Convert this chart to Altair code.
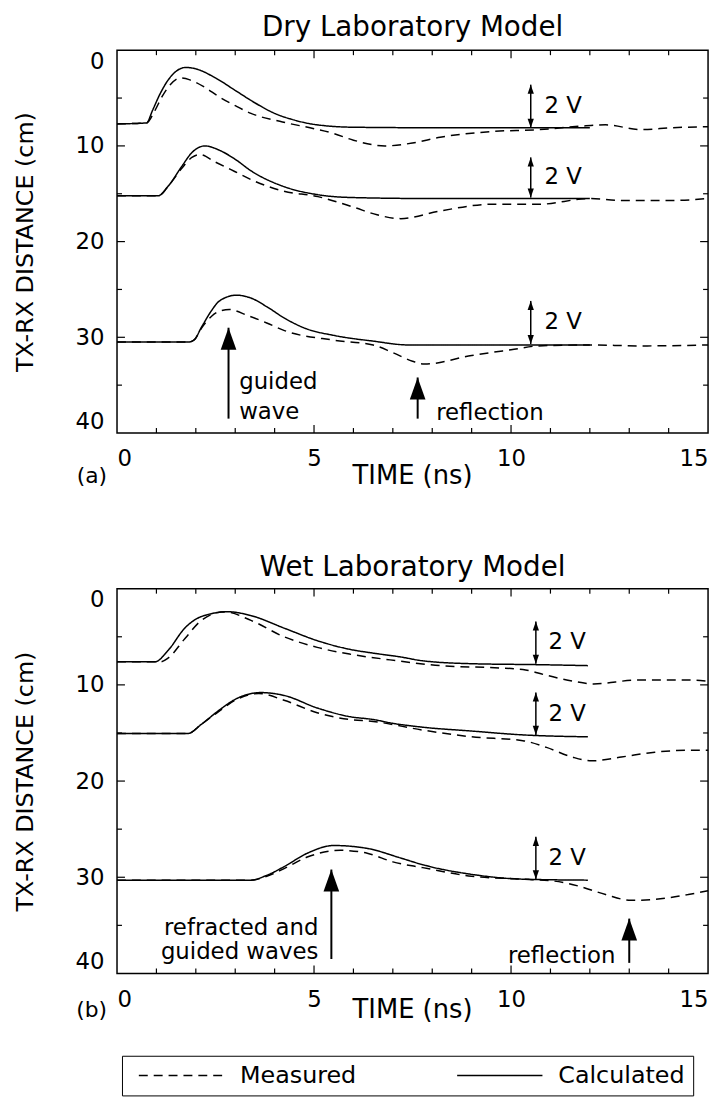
import altair as alt
import pandas as pd

FONT = "DejaVu Sans"
W = 596
H1 = 386
H2 = 388

# ---------------- Dry laboratory model (time ns, distance cm) ----------------
dry1_calc_t = [0, 0.75, 0.9, 1.1, 1.3, 1.5, 1.75, 2.0, 2.5, 3.0, 3.5, 4.0, 4.5, 5.0, 6.0, 8.0, 10.0, 12.0]
dry1_calc_d = [7.7, 7.6, 6.3, 4.5, 3.1, 2.2, 1.8, 1.95, 2.9, 4.2, 5.5, 6.6, 7.3, 7.75, 8.05, 8.1, 8.1, 8.1]
dry1_meas_t = [0, 0.75, 0.95, 1.15, 1.35, 1.6, 1.85, 2.2, 2.6, 3.0, 3.4, 4.2, 5.0, 5.5, 6.0, 6.8, 7.5, 8.2, 9.5, 10.7, 11.9, 12.4, 13.3, 14.1, 15.0]
dry1_meas_d = [7.7, 7.6, 6.4, 4.8, 3.6, 2.9, 3.1, 3.8, 4.9, 5.8, 6.6, 7.5, 8.2, 8.7, 9.4, 10.0, 9.7, 9.1, 8.5, 8.3, 7.9, 7.8, 8.3, 8.1, 8.0]

dry2_calc_t = [0, 1.05, 1.3, 1.65, 1.9, 2.23, 2.57, 3.0, 3.4, 4.2, 5.1, 6.0, 8.0, 10.0, 12.0]
dry2_calc_d = [15.2, 15.2, 14.2, 12.1, 10.7, 10.0, 10.4, 11.4, 12.6, 14.2, 15.1, 15.4, 15.5, 15.5, 15.5]
dry2_meas_t = [0, 1.05, 1.3, 1.65, 1.9, 2.1, 2.5, 3.0, 3.5, 4.2, 5.1, 6.0, 6.6, 7.2, 8.2, 9.5, 10.7, 12.0, 12.8, 14.1, 15.0]
dry2_meas_d = [15.2, 15.2, 14.2, 12.3, 11.2, 10.9, 11.7, 12.7, 13.7, 14.7, 15.3, 16.4, 17.2, 17.6, 16.8, 16.1, 16.1, 15.5, 15.7, 15.7, 15.5]

dry3_calc_t = [0, 1.8, 1.95, 2.15, 2.4, 2.6, 3.03, 3.4, 3.8, 4.25, 4.8, 5.5, 6.5, 7.4, 9.0, 12.0]
dry3_calc_d = [30.5, 30.5, 30.3, 28.9, 27.2, 26.2, 25.6, 25.9, 26.8, 28.0, 29.1, 29.8, 30.4, 30.8, 30.8, 30.8]
dry3_meas_t = [0, 1.8, 1.95, 2.15, 2.4, 2.65, 2.85, 3.3, 3.8, 4.25, 5.5, 6.5, 7.0, 7.5, 7.8, 9.0, 10.0, 10.7, 12.0, 13.3, 15.0]
dry3_meas_d = [30.5, 30.5, 30.3, 29.0, 27.8, 27.2, 27.1, 27.7, 28.5, 29.3, 30.3, 30.8, 31.6, 32.5, 32.8, 31.9, 31.3, 30.9, 30.8, 30.9, 30.8]

# ---------------- Wet laboratory model ----------------
wet1_calc_t = [0, 0.96, 1.3, 1.72, 2.14, 2.82, 3.4, 4.24, 5.08, 5.9, 6.5, 7.2, 7.76, 9.0, 10.7, 11.95]
wet1_calc_d = [7.6, 7.6, 6.4, 4.1, 2.9, 2.4, 2.8, 4.1, 5.4, 6.3, 6.7, 7.1, 7.5, 7.8, 7.9, 8.0]
wet1_meas_t = [0, 1.1, 1.3, 1.72, 2.14, 2.73, 3.4, 4.24, 5.08, 5.9, 6.93, 8.2, 9.45, 10.3, 10.9, 11.55, 12.1, 13.2, 14.5, 14.95]
wet1_meas_d = [7.6, 7.6, 7.2, 5.2, 3.3, 2.4, 3.3, 5.0, 6.1, 6.8, 7.4, 8.0, 8.2, 8.4, 9.0, 9.6, 9.9, 9.5, 9.5, 9.6]

wet2_calc_t = [0, 1.8, 2.14, 2.57, 3.0, 3.65, 4.24, 5.08, 5.9, 6.5, 7.0, 7.76, 9.0, 10.3, 11.95]
wet2_calc_d = [15.05, 15.05, 14.1, 12.7, 11.5, 10.8, 11.1, 12.4, 13.3, 13.6, 14.0, 14.4, 14.8, 15.2, 15.4]
wet2_meas_t = [0, 1.8, 2.14, 2.57, 3.0, 3.6, 4.24, 5.08, 5.9, 6.5, 7.76, 9.0, 10.3, 10.9, 11.55, 12.05, 12.8, 13.65, 14.5, 15.0]
wet2_meas_d = [15.05, 15.05, 14.1, 12.8, 11.6, 10.9, 11.6, 12.9, 13.6, 13.8, 14.7, 15.4, 15.8, 16.5, 17.5, 17.9, 17.5, 17.0, 16.8, 16.8]

wet3_calc_t = [0, 3.4, 3.8, 4.24, 4.83, 5.5, 6.35, 7.2, 7.76, 9.0, 10.3, 11.95]
wet3_calc_d = [30.3, 30.3, 29.8, 28.9, 27.5, 26.7, 27.0, 28.0, 28.7, 29.7, 30.2, 30.3]
wet3_meas_t = [0, 3.4, 3.8, 4.24, 4.83, 5.67, 6.35, 7.0, 7.76, 9.0, 10.3, 11.1, 11.7, 12.4, 13.05, 13.65, 14.5, 15.0]
wet3_meas_d = [30.3, 30.3, 29.9, 29.1, 27.9, 27.2, 27.5, 28.4, 29.0, 29.9, 30.2, 30.4, 30.9, 31.8, 32.4, 32.3, 31.8, 31.4]

# ---------------- "2 V" scale bars ----------------
dry_bar_t = [10.5, 10.5, 10.5]
dry_bar_top = [3.6, 11.2, 26.2]
dry_bar_bot = [8.1, 15.4, 30.7]
dry_bar_text_t = [10.85, 10.85, 10.85]
wet_bar_t = [10.63, 10.63, 10.63]
wet_bar_top = [3.4, 10.8, 25.8]
wet_bar_bot = [7.8, 15.2, 30.2]
wet_bar_text_t = [10.95, 10.95, 10.95]
bar_label = "2 V"

# ---------------- annotation arrows ----------------
dry_arrow_t = [2.83, 7.63]
dry_arrow_base = [38.5, 38.5]
dry_arrow_tip = [29.0, 34.2]
wet_arrow_t = [5.44, 13.0]
wet_arrow_base = [38.5, 38.9]
wet_arrow_tip = [29.2, 34.3]

dry_note_left_text = ["guided", "wave", "reflection"]
dry_note_left_t = [3.1, 3.1, 8.1]
dry_note_left_d = [35.4, 38.5, 38.6]
wet_note_right_text = ["refracted and", "guided waves", "reflection"]
wet_note_right_t = [5.11, 5.11, 12.65]
wet_note_right_d = [36.0, 38.5, 38.9]

# ---------------- frame ticks / axes ----------------
x_label_values = [0, 5, 10, 15]
y_label_values = [0, 10, 20, 30, 40]
x_major_ticks = [5, 10]
x_minor_ticks = [1, 2, 3, 4, 6, 7, 8, 9, 11, 12, 13, 14]
y_major_ticks = [10, 20, 30]
y_minor_ticks = [5, 15, 25, 35]

kinds = ["Measured", "Calculated"]
panel_titles = ["Dry Laboratory Model", "Wet Laboratory Model"]
panel_letters = ["(a)", "(b)"]
x_title = "TIME (ns)"
y_title = "TX-RX DISTANCE (cm)"

XS = alt.Scale(domain=[0, 15], nice=False, zero=False)
YS = alt.Scale(domain=[0, 40], reverse=True, nice=False, zero=False)
DASH = alt.Scale(domain=kinds, range=[[9, 6], [1, 0]])

XAXIS = alt.Axis(values=x_label_values, format="d", title=None, labelFontSize=23,
                 labelPadding=15, labelFlush=True, ticks=False, tickSize=0,
                 domain=False, grid=False, labelAngle=0)
YAXIS = alt.Axis(values=y_label_values, format="d", title=y_title, titleFontSize=24,
                 titleFontWeight="normal", titlePadding=38, labelFontSize=23,
                 labelPadding=13, labelFlush=True, ticks=False, tickSize=0,
                 domain=False, grid=False)

UP_SMALL = "M0,0L-0.45,1.3L0.45,1.3Z"
DOWN_SMALL = "M0,0L-0.45,-1.3L0.45,-1.3Z"
UP_BIG = "M0,0L-0.5,1.4L0.5,1.4Z"


def X(field):
    return alt.X(field, type="quantitative", scale=XS, axis=XAXIS)


def Y(field):
    return alt.Y(field, type="quantitative", scale=YS, axis=YAXIS)


def lines_frame(series):
    rows = []
    for i, (ts, ds, kind) in enumerate(series):
        for t, d in zip(ts, ds):
            rows.append({"trace": i, "kind": kind, "t": t, "d": d})
    return pd.DataFrame(rows)


def tick_layers(H):
    out = []
    for vals, L in ((x_major_ticks, 8), (x_minor_ticks, 5)):
        base = alt.Chart(pd.DataFrame({"v": vals})).mark_rule(color="black", strokeWidth=1.2)
        out.append(base.encode(x=X("v"), y=alt.value(H), y2=alt.value(H - L)))
        out.append(base.encode(x=X("v"), y=alt.value(0), y2=alt.value(L)))
    for vals, L in ((y_major_ticks, 8), (y_minor_ticks, 5)):
        base = alt.Chart(pd.DataFrame({"v": vals})).mark_rule(color="black", strokeWidth=1.2)
        out.append(base.encode(y=Y("v"), x=alt.value(0), x2=alt.value(L)))
        out.append(base.encode(y=Y("v"), x=alt.value(W), x2=alt.value(W - L)))
    return out


def panel(idx, H, series, bar_t, bar_top, bar_bot, bar_text_t,
          arr_t, arr_base, arr_tip, notes, note_align, title_offset, letter_dy, legend):
    lines = alt.Chart(lines_frame(series)).mark_line(
        color="black", strokeWidth=1.5, interpolate="monotone", strokeCap="butt"
    ).encode(
        x=X("t"), y=Y("d"),
        detail="trace:N",
        strokeDash=alt.StrokeDash("kind:N", scale=DASH, legend=legend),
    )

    bars_df = pd.DataFrame({"t": bar_t, "top": bar_top, "bot": bar_bot, "tt": bar_text_t,
                            "mid": [(a + b) / 2 for a, b in zip(bar_top, bar_bot)],
                            "lab": [bar_label] * len(bar_t)})
    bar_rule = alt.Chart(bars_df).mark_rule(color="black", strokeWidth=1.5).encode(
        x=X("t"), y=Y("top"), y2="bot:Q")
    bar_up = alt.Chart(bars_df).mark_point(shape=UP_SMALL, filled=True, size=196, color="black", opacity=1).encode(
        x=X("t"), y=Y("top"))
    bar_dn = alt.Chart(bars_df).mark_point(shape=DOWN_SMALL, filled=True, size=196, color="black", opacity=1).encode(
        x=X("t"), y=Y("bot"))
    bar_txt = alt.Chart(bars_df).mark_text(align="left", baseline="middle", font=FONT, fontSize=23, color="black").encode(
        x=X("tt"), y=Y("mid"), text="lab:N")

    arr_df = pd.DataFrame({"t": arr_t, "base": arr_base, "tip": arr_tip})
    arr_rule = alt.Chart(arr_df).mark_rule(color="black", strokeWidth=2).encode(
        x=X("t"), y=Y("base"), y2="tip:Q")
    arr_head = alt.Chart(arr_df).mark_point(shape=UP_BIG, filled=True, size=1000, color="black", opacity=1).encode(
        x=X("t"), y=Y("tip"))

    note_df = pd.DataFrame({"txt": notes[0], "t": notes[1], "d": notes[2]})
    note_txt = alt.Chart(note_df).mark_text(align=note_align, baseline="alphabetic", font=FONT, fontSize=23, color="black").encode(
        x=X("t"), y=Y("d"), text="txt:N")

    letter = alt.Chart(pd.DataFrame({"s": [panel_letters[idx]]})).mark_text(
        align="right", baseline="middle", font=FONT, fontSize=22, color="black"
    ).encode(x=alt.value(-10), y=alt.value(H + letter_dy), text="s:N")
    xtitle = alt.Chart(pd.DataFrame({"s": [x_title]})).mark_text(
        align="center", baseline="middle", font=FONT, fontSize=26, color="black"
    ).encode(x=alt.value(W / 2), y=alt.value(H + letter_dy), text="s:N")

    layers = [lines] + tick_layers(H) + [bar_rule, bar_up, bar_dn, bar_txt, arr_rule, arr_head, note_txt, letter, xtitle]
    return alt.layer(*layers).properties(
        width=W, height=H,
        title=alt.TitleParams(panel_titles[idx], offset=title_offset),
    )


legend = alt.Legend(
    orient="none", legendX=5, legendY=471, direction="horizontal", columns=2, title=None,
    symbolType="M-8.6,0L8.6,0", symbolSize=100, symbolStrokeWidth=1.5, symbolStrokeColor="black",
    symbolOffset=40, labelOffset=47, columnPadding=92, padding=8, strokeColor="black",
    fillColor="white", labelFont=FONT, labelFontSize=24, labelColor="black", labelLimit=400,
)

dry_series = [
    (dry1_meas_t, dry1_meas_d, "Measured"), (dry1_calc_t, dry1_calc_d, "Calculated"),
    (dry2_meas_t, dry2_meas_d, "Measured"), (dry2_calc_t, dry2_calc_d, "Calculated"),
    (dry3_meas_t, dry3_meas_d, "Measured"), (dry3_calc_t, dry3_calc_d, "Calculated"),
]
wet_series = [
    (wet1_meas_t, wet1_meas_d, "Measured"), (wet1_calc_t, wet1_calc_d, "Calculated"),
    (wet2_meas_t, wet2_meas_d, "Measured"), (wet2_calc_t, wet2_calc_d, "Calculated"),
    (wet3_meas_t, wet3_meas_d, "Measured"), (wet3_calc_t, wet3_calc_d, "Calculated"),
]

p1 = panel(0, H1, dry_series, dry_bar_t, dry_bar_top, dry_bar_bot, dry_bar_text_t,
           dry_arrow_t, dry_arrow_base, dry_arrow_tip,
           (dry_note_left_text, dry_note_left_t, dry_note_left_d), "left", 8, 43, None)
p2 = panel(1, H2, wet_series, wet_bar_t, wet_bar_top, wet_bar_bot, wet_bar_text_t,
           wet_arrow_t, wet_arrow_base, wet_arrow_tip,
           (wet_note_right_text, wet_note_right_t, wet_note_right_d), "right", 6, 37, legend)

chart = alt.vconcat(p1, p2, spacing=64).resolve_scale(strokeDash="independent").properties(
    padding={"left": 12, "top": 8, "right": 2, "bottom": 0},
    background="white",
).configure_view(
    stroke="black", strokeWidth=1.5
).configure_title(
    font=FONT, fontSize=28, fontWeight="normal", color="black", anchor="middle"
).configure_axis(
    labelFont=FONT, titleFont=FONT, labelColor="black", titleColor="black"
)

chart.save("out.html", embed_options={"renderer": "svg", "actions": False})
